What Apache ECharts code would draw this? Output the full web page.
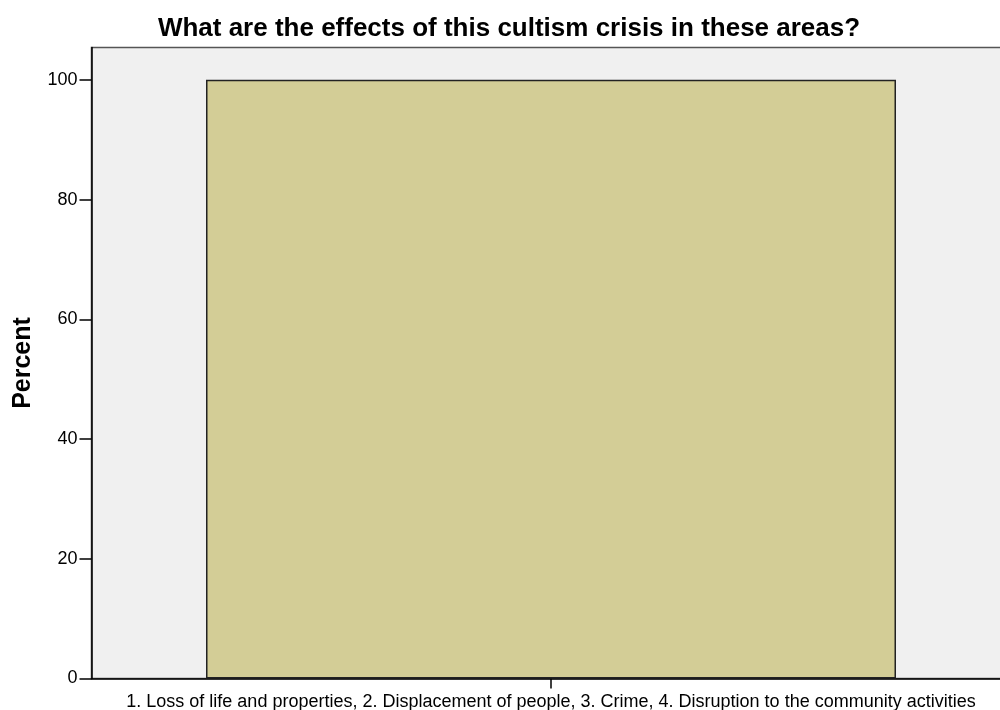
<!DOCTYPE html>
<html><head><meta charset="utf-8">
<script src="https://cdn.jsdelivr.net/npm/echarts@6/dist/echarts.min.js"></script>
<style>html,body{margin:0;padding:0;background:#fff}#c{width:1000px;height:710px}</style>
</head><body><div id="c"></div>
<script>
const categories = ["1. Loss of life and properties, 2. Displacement of people, 3. Crime, 4. Disruption to the community activities"];
const percentValues = [100];
const yTicks = [0, 20, 40, 60, 80, 100];

const chart = echarts.init(document.getElementById('c'), null, {renderer: 'canvas'});
chart.setOption({
  animation: false,
  backgroundColor: '#ffffff',
  title: {
    text: 'What are the effects of this cultism crisis in these areas?',
    left: 504, top: 11, textAlign: 'center',
    textStyle: {fontFamily: 'Liberation Sans, Arial', fontWeight: 'bold', fontSize: 26, color: '#000'}
  },
  grid: {
    left: 91.5, top: 47.5, width: 919, height: 631,
    outerBoundsMode: 'none', containLabel: false,
    show: true, backgroundColor: '#f0f0f0', borderColor: '#555', borderWidth: 1.5
  },
  xAxis: {
    type: 'category', data: categories,
    axisLine: {lineStyle: {color: '#000', width: 1.5}},
    axisTick: {show: true, alignWithLabel: true, length: 10, lineStyle: {color: '#000', width: 1.5}, inside: false},
    axisLabel: {color: '#000', fontFamily: 'Liberation Sans, Arial', fontSize: 18, margin: 15, interval: 0}
  },
  yAxis: {
    type: 'value', min: 0, max: 105.4, interval: 20,
    name: 'Percent', nameLocation: 'middle', nameGap: 56, nameRotate: 90,
    nameTextStyle: {fontFamily: 'Liberation Sans, Arial', fontWeight: 'bold', fontSize: 25, color: '#000'},
    axisLine: {show: true, lineStyle: {color: '#000', width: 1.5}},
    axisTick: {show: true, length: 12, lineStyle: {color: '#000', width: 1.5}},
    axisLabel: {color: '#000', fontFamily: 'Liberation Sans, Arial', fontSize: 18, margin: 14, showMaxLabel: false,
      formatter: v => yTicks.includes(v) ? String(v) : ''},
    splitLine: {show: false}
  },
  series: [{
    type: 'bar', data: percentValues, barWidth: 690,
    itemStyle: {color: '#d3cd96', borderColor: '#222', borderWidth: 1.5}
  }]
});
</script></body></html>
